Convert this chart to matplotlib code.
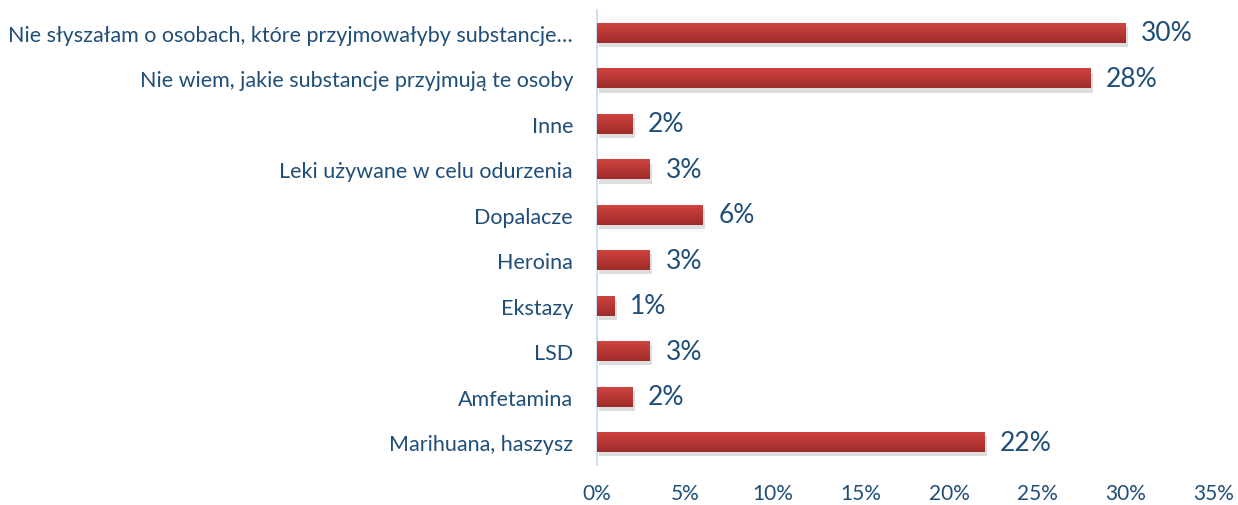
import matplotlib
matplotlib.use("Agg")
import matplotlib.pyplot as plt
import matplotlib.patheffects as pe
import numpy as np

categories = [
    "Marihuana, haszysz",
    "Amfetamina",
    "LSD",
    "Ekstazy",
    "Heroina",
    "Dopalacze",
    "Leki używane w celu odurzenia",
    "Inne",
    "Nie wiem, jakie substancje przyjmują te osoby",
    "Nie słyszałam o osobach, które przyjmowałyby substancje…",
]
values = [22, 2, 3, 1, 3, 6, 3, 2, 28, 30]
xticks = [0, 5, 10, 15, 20, 25, 30, 35]

text_color = "#1f4e79"
plt.rcParams["font.family"] = ["Lato", "DejaVu Sans"]

fig = plt.figure(figsize=(12.38, 5.06), dpi=100)
ax = fig.add_axes([0.482, 0.079, 0.498, 0.899])

y = np.arange(len(categories))
bars = ax.barh(y, values, height=0.44, color="#c33a36", zorder=2)

# vertical gradient (lighter top, darker bottom) clipped to each bar, plus soft shadow
grad = np.linspace(0, 1, 64).reshape(-1, 1)
cmap = matplotlib.colors.LinearSegmentedColormap.from_list("bar", ["#d24441", "#9e2b29"])
for b in bars:
    b.set_path_effects([pe.SimplePatchShadow(offset=(2, -3), shadow_rgbFace="#aaaaaa", alpha=0.4), pe.Normal()])
    x0, y0, w, h = b.get_x(), b.get_y(), b.get_width(), b.get_height()
    im = ax.imshow(grad, extent=[x0, x0 + w, y0, y0 + h], aspect="auto", cmap=cmap,
                   origin="upper", zorder=3)
    im.set_clip_path(b)

for yi, v in zip(y, values):
    ax.text(v + 0.9, yi, f"{v}%", va="center", ha="left", fontsize=19, color=text_color)

ax.set_xlim(0, 35)
ax.set_ylim(-0.5, len(categories) - 0.5)
ax.set_xticks(xticks)
ax.set_xticklabels([f"{t}%" for t in xticks], fontsize=15, color=text_color)
ax.set_yticks(y)
ax.set_yticklabels(categories, fontsize=15.5, color=text_color)
ax.tick_params(axis="both", length=0)
ax.tick_params(axis="x", pad=13)
ax.tick_params(axis="y", pad=17)

for side in ["top", "right", "bottom"]:
    ax.spines[side].set_visible(False)
ax.spines["left"].set_color("#c6d9f1")
ax.spines["left"].set_linewidth(1.2)

fig.savefig("out.png", dpi=100)
